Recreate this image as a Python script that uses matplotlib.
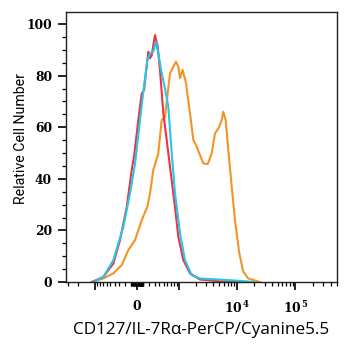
import numpy as np
import matplotlib
matplotlib.use("Agg")
import matplotlib.pyplot as plt
from matplotlib.ticker import FixedLocator, NullFormatter, MultipleLocator

# fluorescence values (x) and relative cell number (y)
red_x = [-1147, -697, -427, -287, -166, -84, -47, 20, 74, 111, 183, 213, 244,
         306, 362, 412, 490, 579, 675, 842, 971, 1197, 1573, 2350, 5172, 14770]
red_y = [0, 2, 7.2, 16.3, 29, 43.4, 48.6, 62.8, 73, 74.4, 89.3, 86.7, 88,
         95.7, 91.2, 82, 65.4, 55, 44.7, 29, 17.6, 8.5, 3.4, 1, 0.3, 0]

cyan_x = [-1074, -697, -427, -225, -111, -31, 47, 100, 166, 213, 273, 326, 374,
          451, 533, 624, 729, 842, 1043, 1283, 1685, 2350, 6740, 14770, 19140]
cyan_y = [0, 2, 8.5, 21.4, 34.4, 46, 62.8, 73.8, 86, 88.6, 89.3, 93.1, 88.6,
          80.9, 75, 68, 49.9, 34.4, 18.9, 8.5, 2.7, 1.4, 0.8, 0.3, 0]

orange_x = [-1147, -697, -427, -255, -139, -31, 74, 166, 213, 273, 374, 451,
            533, 595, 675, 782, 879, 971, 1043, 1167, 1338, 1573, 1799, 2004,
            2284, 2677, 3188, 3731, 4252, 5032, 5540, 5892, 6476, 7172, 8200,
            9330, 11050, 12920, 15720, 24880]
orange_y = [0, 1.4, 3.4, 6.6, 12.4, 16.3, 24, 29.2, 34.4, 43.4, 49.9, 62.8,
            64, 71.8, 80.9, 83.5, 85.4, 83.5, 79, 82.2, 77, 65.4, 55, 53.1,
            49.9, 46, 45.7, 49.9, 57.6, 60.2, 62.8, 66, 62.8, 51.2, 37, 24,
            11.1, 4, 1.4, 0]

x_major = [-1000, 0, 1000, 10000, 100000]
x_labels = ["", "0", "", r"$\mathregular{10^{\,4}}$", r"$\mathregular{10^{\,5}}$"]
y_ticks = [0, 20, 40, 60, 80, 100]

cofactor = 400.0


def fwd(x):
    return np.arcsinh(np.asarray(x) / cofactor)


def inv(y):
    return cofactor * np.sinh(np.asarray(y))


fig = plt.figure(figsize=(3.51, 3.5), dpi=100)
ax = fig.add_axes([0.188, 0.194, 0.772, 0.772])

ax.plot(orange_x, orange_y, color="#f39426", lw=1.5)
ax.plot(red_x, red_y, color="#ec3343", lw=1.5)
ax.plot(cyan_x, cyan_y, color="#27c6e8", lw=1.5)

ax.set_xscale("function", functions=(fwd, inv))
ax.set_xlim(-3230, 509000)
ax.set_ylim(0, 104.7)

minors = []
for d in [10, 100, 1000, 10000, 100000]:
    for m in range(2, 10):
        minors.append(m * d)
for m in range(1, 10):
    minors.append(-m * 100)
    minors.append(m * 10)
    minors.append(-m * 10)
minors += [-2000, -3000, 100, 1000, 10000]
minors = [v for v in minors if v < 509000]

ax.xaxis.set_major_locator(FixedLocator(x_major))
ax.set_xticklabels(x_labels)
ax.xaxis.set_minor_locator(FixedLocator(minors))
ax.xaxis.set_minor_formatter(NullFormatter())

ax.set_yticks(y_ticks)
ax.yaxis.set_minor_locator(MultipleLocator(5))

ax.tick_params(which="major", direction="out", length=6, width=1.2,
               labelsize=8.8, colors="black")
ax.tick_params(which="minor", direction="out", length=3, width=0.9)
for lab in ax.get_xticklabels() + ax.get_yticklabels():
    lab.set_fontfamily("DejaVu Serif")
    lab.set_fontweight("bold")
ax.tick_params(axis="x", pad=7)
ax.tick_params(axis="y", pad=4)

for s in ax.spines.values():
    s.set_linewidth(1.0)
    s.set_color("#222222")

ax.set_xlabel("CD127/IL-7Rα-PerCP/Cyanine5.5", fontfamily="Open Sans",
              fontsize=12.3, labelpad=4)
ax.set_ylabel("Relative Cell Number", fontfamily="Roboto", fontsize=10.2)
ax.yaxis.set_label_coords(-0.142, 0.533)

fig.savefig("out.png", dpi=100)
